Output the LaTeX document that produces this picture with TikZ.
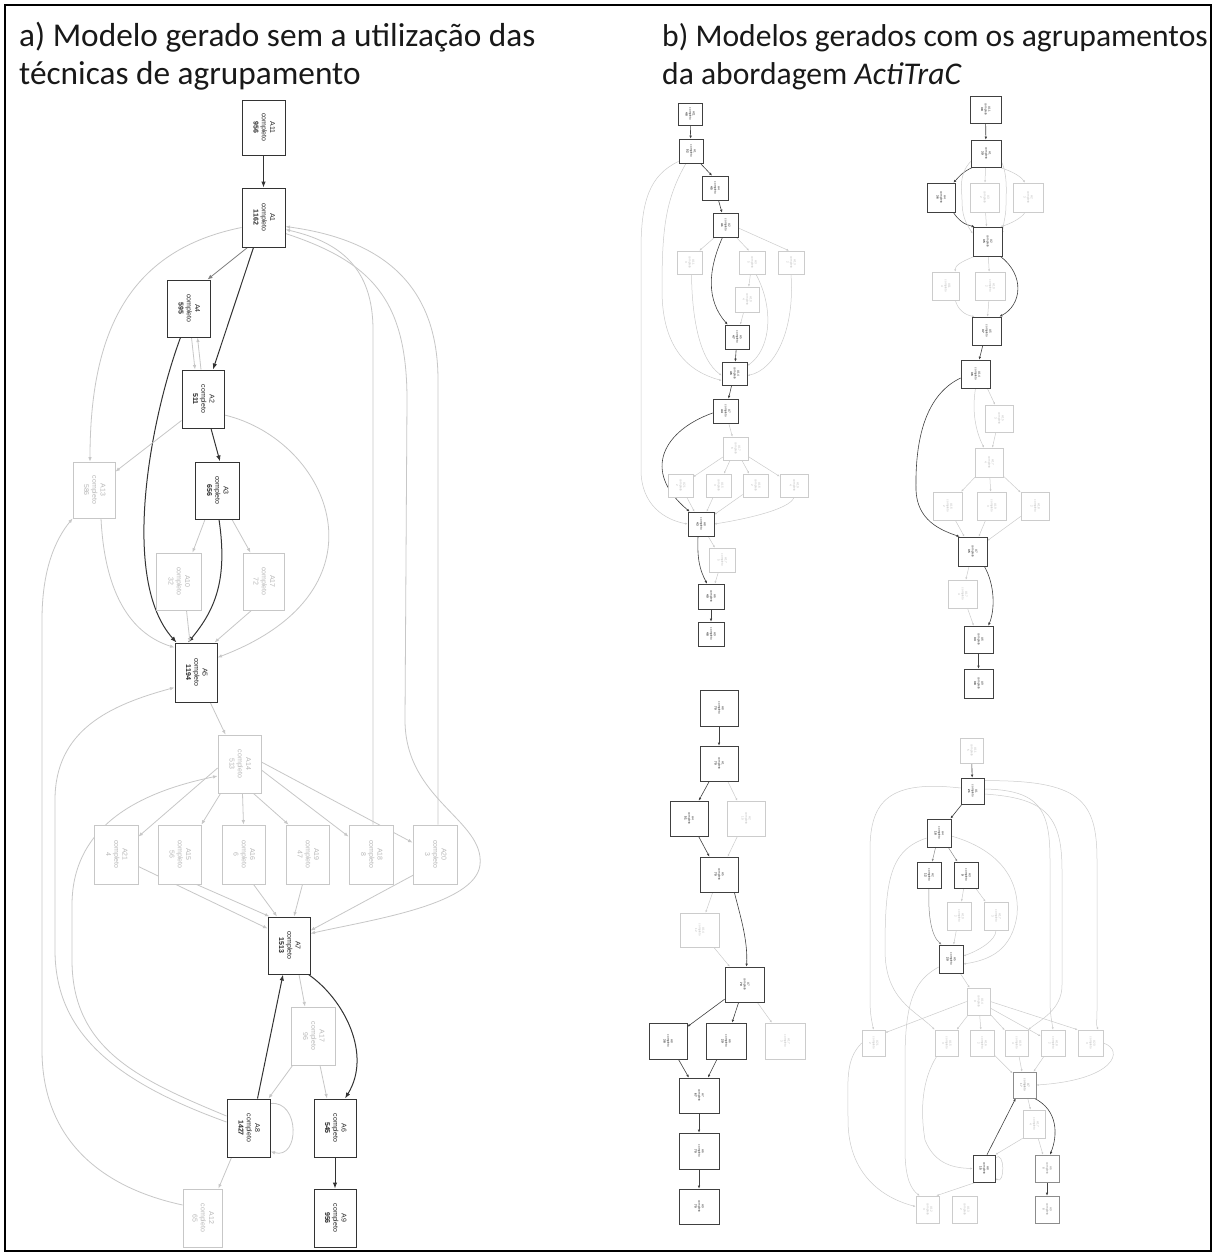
\documentclass[tikz,border=0pt]{standalone}
\usepackage{fontspec}
\setmainfont{Carlito}
\newfontfamily\nodefont{Liberation Sans}
\usepackage{graphicx}
\usetikzlibrary{arrows.meta,calc}
\pgfdeclarelayer{background}
\pgfdeclarelayer{paper}
\pgfsetlayers{paper,background,main}
\newcommand\myfa{\nodefont\fontsize{7}{8.2}\selectfont}
\newcommand\myfb{\nodefont\fontsize{3}{3.6}\selectfont}
\newcommand\bx[7]{\node[#6,minimum width={(#4)-(#2)},minimum height={(#5)-(#3)}] (#1) at ({((#2)+(#4))/2},{((#3)+(#5))/2}) {\rotatebox{-90}{\begin{tabular}{@{}c@{}}#7\end{tabular}}};}
\tikzset{
 dn/.style={draw=black!80,line width=1pt,fill=white,inner sep=0pt,text=black!85,font=\myfa},
 ln/.style={draw=black!22,line width=0.8pt,fill=white,inner sep=0pt,text=black!28,font=\myfa},
 sdn/.style={draw=black!75,line width=0.7pt,fill=white,inner sep=0pt,text=black!85,font=\myfb},
 smn/.style={draw=black!45,line width=0.6pt,fill=white,inner sep=0pt,text=black!50,font=\myfb},
 sln/.style={draw=black!20,line width=0.6pt,fill=white,inner sep=0pt,text=black!28,font=\myfb},
 de/.style={draw=black!80,line width=1pt,-{Latex[length=6pt,width=4.5pt]}},
 me/.style={draw=black!50,line width=0.8pt,-{Latex[length=5pt,width=4pt]}},
 le/.style={draw=black!22,line width=0.8pt,-{Latex[length=4.5pt,width=3.5pt]}},
 sde/.style={draw=black!75,line width=0.6pt,-{Latex[length=3pt,width=2.6pt]}},
 sme/.style={draw=black!45,line width=0.5pt,-{Latex[length=2.6pt,width=2.2pt]}},
 sle/.style={draw=black!20,line width=0.5pt,-{Latex[length=2.4pt,width=2pt]}},
 ttla/.style={anchor=base west,inner sep=0pt,text=black!90,font=\fontsize{33.3}{38}\selectfont},
 ttlb/.style={anchor=base west,inner sep=0pt,text=black!90,font=\fontsize{31.6}{37}\selectfont}
}
\begin{document}
\begin{tikzpicture}[x=1pt,y=-1pt]
\useasboundingbox (0,0) rectangle (1217,1256);
\begin{pgfonlayer}{paper}
\fill[white] (0,0) rectangle (1217,1256);
\end{pgfonlayer}
\draw[line width=2pt] (5,5) rectangle (1211,1251);
\node[ttla] (ta1) at (19,46) {a) Modelo gerado sem a utilização das};
\node[ttla] (ta2) at (19,84) {técnicas de agrupamento};
\node[ttlb] (tb1) at (662,46) {b) Modelos gerados com os agrupamentos};
\node[ttlb] (tb2) at (662,84) {da abordagem \textit{ActiTraC}};

% ---------- part a ----------
\bx{A11}{242}{100}{285}{155}{dn}{A11\\completo\\\textbf{956}}
\bx{A1}{242}{188}{285}{247}{dn}{A1\\completo\\\textbf{1162}}
\bx{A4}{167}{280}{210}{337}{dn}{A4\\completo\\\textbf{595}}
\bx{A2}{182}{370}{224}{428}{dn}{A2\\completo\\\textbf{511}}
\bx{A3}{195}{462}{239}{519}{dn}{A3\\completo\\\textbf{656}}
\bx{A13}{73}{462}{115}{518}{ln}{A13\\completo\\586}
\bx{A10}{156}{553}{201}{610}{ln}{A10\\completo\\32}
\bx{A17}{243}{553}{284}{610}{ln}{A17\\completo\\72}
\bx{A5}{175}{643}{217}{702}{dn}{A5\\completo\\\textbf{1194}}
\bx{A14}{218}{735}{261}{793}{ln}{A14\\completo\\513}
\bx{r1}{94}{825}{138}{884}{ln}{A21\\completo\\4}
\bx{r2}{158}{825}{201}{884}{ln}{A15\\completo\\56}
\bx{r3}{222}{825}{265}{884}{ln}{A16\\completo\\6}
\bx{r4}{286}{825}{329}{884}{ln}{A19\\completo\\47}
\bx{r5}{349}{825}{393}{884}{ln}{A18\\completo\\8}
\bx{r6}{413}{825}{457}{884}{ln}{A20\\completo\\3}
\bx{A7}{268}{917}{310}{974}{dn}{A7\\completo\\\textbf{1513}}
\bx{A17b}{291}{1007}{335}{1065}{ln}{A17\\completo\\96}
\bx{A8}{227}{1099}{270}{1157}{dn}{A8\\completo\\\textbf{1427}}
\bx{A6}{314}{1099}{356}{1157}{dn}{A6\\completo\\\textbf{545}}
\bx{A9}{314}{1189}{356}{1247}{dn}{A9\\completo\\\textbf{956}}
\bx{A12}{183}{1189}{222}{1247}{ln}{A12\\completo\\65}

% ---------- part b1 ----------
\bx{n1}{678}{103}{702}{125}{sdn}{A11\\completo\\\textbf{48}}
\bx{n2}{679}{139}{703}{163}{sdn}{A1\\completo\\\textbf{52}}
\bx{n3}{702}{176}{728}{200}{sdn}{A4\\completo\\\textbf{45}}
\bx{n4}{713}{213}{738}{237}{sdn}{A2\\completo\\\textbf{41}}
\bx{l1}{677}{251}{702}{274}{sln}{A11\\completo\\3}
\bx{l2}{739}{251}{765}{274}{sln}{A3\\completo\\5}
\bx{l3}{778}{251}{804}{274}{sln}{A13\\completo\\2}
\bx{l4}{735}{287}{759}{312}{sln}{A10\\completo\\4}
\bx{n5}{725}{325}{749}{349}{sdn}{A5\\completo\\\textbf{47}}
\bx{n6}{722}{362}{747}{385}{sdn}{A14\\completo\\\textbf{46}}
\bx{n7}{713}{399}{738}{423}{sdn}{A7\\completo\\\textbf{44}}
\bx{l5}{723}{437}{748}{460}{sln}{A17\\completo\\6}
\bx{q1}{668}{474}{693}{497}{sln}{A21\\completo\\2}
\bx{q2}{706}{474}{731}{497}{sln}{A15\\completo\\3}
\bx{q3}{743}{474}{768}{497}{sln}{A16\\completo\\2}
\bx{q4}{780}{474}{808}{497}{sln}{A19\\completo\\4}
\bx{n8}{688}{512}{714}{536}{sdn}{A8\\completo\\\textbf{43}}
\bx{l6}{709}{548}{735}{572}{sln}{A17\\completo\\5}
\bx{n9}{698}{584}{724}{609}{sdn}{A6\\completo\\\textbf{40}}
\bx{n10}{698}{622}{724}{646}{sdn}{A9\\completo\\\textbf{48}}

% ---------- part b2 ----------
\bx{m1}{970}{96}{1001}{123}{sdn}{A11\\completo\\\textbf{38}}
\bx{m2}{971}{140}{1001}{167}{sdn}{A1\\completo\\\textbf{39}}
\bx{m3}{927}{183}{955}{212}{sdn}{A4\\completo\\\textbf{36}}
\bx{c1}{970}{183}{999}{212}{sln}{A3\\completo\\2}
\bx{c2}{1013}{183}{1043}{212}{sln}{A2\\completo\\3}
\bx{m4}{973}{227}{1002}{256}{sdn}{A2\\completo\\\textbf{35}}
\bx{c3}{932}{272}{959}{300}{sln}{A11\\completo\\4}
\bx{c4}{975}{272}{1005}{300}{sln}{A10\\completo\\2}
\bx{m5}{972}{317}{1001}{345}{sdn}{A5\\completo\\\textbf{37}}
\bx{m6}{961}{360}{990}{388}{sdn}{A14\\completo\\\textbf{36}}
\bx{c5}{985}{405}{1013}{432}{sln}{A15\\completo\\3}
\bx{c6}{975}{448}{1003}{477}{sln}{A17\\completo\\4}
\bx{c7}{933}{492}{962}{520}{sln}{A16\\completo\\2}
\bx{c8}{977}{492}{1006}{520}{sln}{A19\\completo\\3}
\bx{c9}{1021}{492}{1049}{520}{sln}{A18\\completo\\2}
\bx{m7}{958}{537}{987}{566}{sdn}{A7\\completo\\\textbf{35}}
\bx{c10}{948}{580}{977}{608}{sln}{A17\\completo\\4}
\bx{m8}{964}{626}{993}{653}{sdn}{A6\\completo\\\textbf{33}}
\bx{m9}{964}{669}{993}{698}{sdn}{A9\\completo\\\textbf{38}}

% ---------- part b3 ----------
\bx{k1}{700}{690}{738}{726}{sdn}{A8\\completo\\\textbf{70}}
\bx{k2}{700}{746}{738}{781}{sdn}{A1\\completo\\\textbf{70}}
\bx{k3}{670}{801}{708}{836}{sdn}{A4\\completo\\\textbf{51}}
\bx{k3l}{727}{801}{765}{836}{sln}{A2\\completo\\19}
\bx{k4}{700}{857}{738}{892}{sdn}{A5\\completo\\\textbf{70}}
\bx{kl}{680}{913}{719}{947}{sln}{A14\\completo\\12}
\bx{k5}{725}{967}{764}{1002}{sdn}{A7\\completo\\\textbf{70}}
\bx{k6}{649}{1023}{687}{1059}{sdn}{A8\\completo\\\textbf{38}}
\bx{k7}{706}{1023}{746}{1059}{sdn}{A6\\completo\\\textbf{29}}
\bx{k7l}{765}{1023}{805}{1059}{sln}{A17\\completo\\3}
\bx{k8}{679}{1078}{719}{1113}{sdn}{A7\\completo\\\textbf{67}}
\bx{k9}{679}{1133}{719}{1169}{sdn}{A6\\completo\\\textbf{70}}
\bx{k10}{679}{1189}{719}{1224}{sdn}{A9\\completo\\\textbf{70}}

% ---------- part b4 ----------
\bx{p1}{960}{738}{983}{763}{sln}{A11\\completo\\5}
\bx{p2}{961}{778}{984}{804}{sdn}{A1\\completo\\\textbf{21}}
\bx{p3}{927}{819}{951}{847}{sdn}{A4\\completo\\\textbf{18}}
\bx{p4}{917}{862}{941}{888}{sdn}{A2\\completo\\\textbf{12}}
\bx{p5}{954}{862}{978}{888}{sdn}{A3\\completo\\\textbf{9}}
\bx{s1}{947}{902}{971}{930}{sln}{A10\\completo\\2}
\bx{s2}{984}{902}{1008}{930}{sln}{A17\\completo\\3}
\bx{p6}{939}{945}{963}{973}{sdn}{A5\\completo\\\textbf{20}}
\bx{s3}{967}{988}{990}{1015}{sln}{A14\\completo\\9}
\bx{t1}{862}{1030}{885}{1056}{sln}{A21\\completo\\2}
\bx{t2}{935}{1030}{958}{1056}{sln}{A15\\completo\\3}
\bx{t3}{970}{1030}{994}{1056}{sln}{A16\\completo\\2}
\bx{t4}{1005}{1030}{1028}{1056}{sln}{A19\\completo\\4}
\bx{t5}{1041}{1030}{1065}{1056}{sln}{A18\\completo\\2}
\bx{t6}{1078}{1030}{1103}{1056}{sln}{A20\\completo\\3}
\bx{p7}{1013}{1072}{1036}{1098}{smn}{A7\\completo\\17}
\bx{s4}{1023}{1110}{1045}{1138}{sln}{A17\\completo\\4}
\bx{p8}{973}{1155}{995}{1182}{sdn}{A8\\completo\\\textbf{15}}
\bx{p9}{1035}{1155}{1059}{1182}{smn}{A6\\completo\\8}
\bx{u1}{916}{1196}{939}{1223}{sln}{A12\\completo\\3}
\bx{u2}{952}{1196}{977}{1223}{sln}{A13\\completo\\2}
\bx{p10}{1035}{1196}{1059}{1223}{smn}{A9\\completo\\8}

\begin{pgfonlayer}{background}
% ===== part a edges =====
\draw[de] (A11) -- (A1);
\draw[me] ($(A1.south west)+(6,0)$) -- ($(A4.north east)+(-3,0)$);
\draw[de] ($(A1.south)+(-10,0)$) -- ($(A2.north)+(10,0)$);
\draw[le] ($(A4.south)+(3,0)$) -- ($(A2.north)+(-8,0)$);
\draw[le] ($(A2.north)+(-2,0)$) -- ($(A4.south)+(9,0)$);
\draw[de] ($(A2.south)+(8,0)$) -- ($(A3.north)+(3,0)$);
\draw[de] ($(A4.south)+(-8,0)$) .. controls (150,420) and (120,580) .. ($(A5.north west)+(2,0)$);
\draw[de] ($(A3.south)+(2,0)$) .. controls (228,580) and (215,610) .. ($(A5.north)+(-8,0)$);
\draw[le] ($(A1.west)+(0,10)$) .. controls (130,250) and (90,330) .. ($(A13.north)+(-4,0)$);
\draw[le] ($(A2.south west)+(0,-8)$) -- ($(A13.north east)+(0,10)$);
\draw[le] ($(A13.south)+(7,0)$) .. controls (105,600) and (135,635) .. ($(A5.north west)+(0,5)$);
\draw[le] ($(A3.south)+(-12,0)$) -- ($(A10.north)+(14,0)$);
\draw[le] ($(A3.south)+(15,0)$) -- ($(A17.north)+(-13,0)$);
\draw[le] ($(A10.south)+(8,0)$) -- ($(A5.north)+(-6,0)$);
\draw[le] ($(A17.south)+(-12,0)$) -- ($(A5.north east)+(-3,0)$);
\draw[le] ($(A2.east)+(0,16)$) .. controls (330,440) and (395,590) .. ($(A5.east)+(0,-15)$);
\draw[le] (A5) -- (A14);
\draw[le] ($(A14.west)+(0,4)$) -- ($(r1.north east)+(0,12)$);
\draw[le] ($(A14.south west)+(3,0)$) -- (r2.north east);
\draw[le] ($(A14.south)+(3,0)$) -- (r3.north);
\draw[le] ($(A14.south east)+(-8,0)$) -- ($(r4.north west)+(3,0)$);
\draw[le] ($(A14.east)+(0,6)$) -- ($(r5.north west)+(0,12)$);
\draw[le] ($(A14.east)+(0,-2)$) -- ($(r6.north west)+(0,18)$);
\draw[le] ($(r1.east)+(0,12)$) -- ($(A7.north west)+(0,12)$);
\draw[le] ($(r2.south east)+(-5,0)$) -- ($(A7.north west)+(2,0)$);
\draw[le] ($(r3.south)+(10,0)$) -- ($(A7.north)+(-12,0)$);
\draw[le] ($(r4.south)+(-5,0)$) -- ($(A7.north)+(5,0)$);
\draw[le] ($(r6.south west)+(2,-10)$) -- ($(A7.north east)+(0,14)$);
\draw[le] ($(r5.north)+(2,0)$) -- (373,330) .. controls (373,268) and (340,242) .. ($(A1.east)+(0,12)$);
\draw[le] ($(r6.north)+(3,0)$) -- (438,380) .. controls (438,275) and (370,238) .. ($(A1.east)+(0,9)$);
\draw[le] ($(A1.east)+(0,16)$) .. controls (372,262) and (407,300) .. (407,400) -- (405,720) .. controls (405,800) and (485,820) .. (480,865) .. controls (475,905) and (370,920) .. ($(A7.east)+(0,-12)$);
\draw[le] ($(A8.west)+(0,-12)$) .. controls (140,1080) and (72,1050) .. (72,960) -- (72,905) .. controls (72,820) and (150,790) .. ($(A14.west)+(0,12)$);
\draw[le] ($(A8.west)+(0,-6)$) .. controls (110,1080) and (55,1030) .. (55,950) -- (55,800) .. controls (55,730) and (110,705) .. ($(A5.west)+(0,15)$);
\draw[le] ($(A12.west)+(0,-13)$) .. controls (90,1185) and (42,1130) .. (42,1050) -- (42,620) .. controls (42,570) and (55,540) .. (A13.south west);
\draw[le] ($(A7.south)+(10,0)$) -- ($(A17b.north)+(-8,0)$);
\draw[de] ($(A7.south east)+(-2,0)$) .. controls (345,1000) and (372,1055) .. ($(A6.north)+(10,0)$);
\draw[le] ($(A17b.south west)+(2,0)$) -- ($(A8.north east)+(-2,0)$);
\draw[le] ($(A17b.south)+(7,0)$) -- ($(A6.north)+(-8,0)$);
\draw[de] ($(A8.north)+(9,0)$) -- ($(A7.south)+(-6,0)$);
\draw[le] ($(A8.north east)+(0,5)$) .. controls (300,1100) and (300,1160) .. ($(A8.south east)+(0,-6)$);
\draw[le] ($(A8.south west)+(5,0)$) -- ($(A12.north east)+(-4,0)$);
\draw[de] (A6) -- (A9);

% ===== b1 edges =====
\draw[sde] (n1) -- (n2);
\draw[sde] ($(n2.south east)+(-3,0)$) -- ($(n3.north)+(-3,0)$);
\draw[sde] (n3) -- (n4);
\draw[sde] ($(n4.south)+(-3,0)$) .. controls (708,270) and (706,300) .. ($(n5.north west)+(3,0)$);
\draw[sde] (n5) -- (n6);
\draw[sde] (n6) -- (n7);
\draw[sde] ($(n7.west)+(0,2)$) .. controls (665,430) and (640,470) .. ($(n8.north west)+(2,0)$);
\draw[sde] ($(n8.south)+(-3,0)$) .. controls (697,560) and (700,570) .. ($(n9.north)+(-4,0)$);
\draw[sde] (n9) -- (n10);
\draw[sle] ($(n4.south west)+(2,0)$) -- ($(l1.north east)+(-3,0)$);
\draw[sle] ($(n4.south east)+(-2,0)$) -- ($(l2.north)+(-3,0)$);
\draw[sle] ($(n4.east)+(0,3)$) -- ($(l3.north)+(-2,0)$);
\draw[sle] (l2) -- (l4);
\draw[sle] (l4) -- (n5);
\draw[sle] ($(l1.south)+(2,0)$) .. controls (692,320) and (700,360) .. ($(n6.west)+(0,2)$);
\draw[sle] (l3.south) .. controls (795,330) and (775,370) .. ($(n6.east)+(0,2)$);
\draw[sle] ($(l2.south)+(4,0)$) .. controls (775,310) and (770,350) .. ($(n6.north east)+(0,4)$);
\draw[sle] ($(n2.south west)+(0,-2)$) .. controls (650,175) and (641,200) .. (641,250) -- (641,470) .. controls (641,505) and (665,520) .. (n8.west);
\draw[sle] ($(n2.south)+(-5,0)$) .. controls (665,200) and (662,230) .. (662,290) .. controls (662,350) and (690,372) .. ($(n6.west)+(0,7)$);
\draw[sle] (n7) -- (l5);
\draw[sle] (l5) -- (q1);
\draw[sle] (l5) -- (q2);
\draw[sle] (l5) -- (q3);
\draw[sle] (l5) -- (q4);
\draw[sle] (q1) -- (n8);
\draw[sle] (q2) -- (n8);
\draw[sle] (q3) -- (n8);
\draw[sle] (q4.south) .. controls (790,510) and (740,520) .. (n8.east);
\draw[sle] (n8) -- (l6);
\draw[sle] (l6) -- (n9);

% ===== b2 edges =====
\draw[sde] (m1) -- (m2);
\draw[sde] ($(m2.south west)+(2,0)$) .. controls (962,172) and (958,178) .. ($(m3.north east)+(-2,0)$);
\draw[sle] (m2) -- (c1);
\draw[sle] ($(m2.south east)+(-2,0)$) .. controls (1015,172) and (1022,178) .. ($(c2.north)+(-3,0)$);
\draw[sde] ($(m3.south east)+(-2,0)$) .. controls (958,220) and (965,225) .. ($(m4.north west)+(2,0)$);
\draw[sle] (c1) -- (m4);
\draw[sle] ($(c2.south)+(-3,0)$) .. controls (1022,218) and (1010,224) .. ($(m4.north east)+(-2,0)$);
\draw[sle] ($(m2.west)+(0,8)$) .. controls (958,175) and (962,190) .. (962,200) .. controls (962,215) and (965,222) .. ($(m4.west)+(0,-8)$);
\draw[sle] ($(m2.east)+(0,8)$) .. controls (1008,175) and (1006,195) .. (1006,205) .. controls (1006,215) and (1004,220) .. ($(m4.east)+(0,-8)$);
\draw[sle] ($(m4.south west)+(2,0)$) .. controls (960,262) and (955,266) .. ($(c3.north east)+(-4,0)$);
\draw[sle] (m4) -- (c4);
\draw[sde] ($(m4.south east)+(-2,0)$) .. controls (1025,275) and (1022,305) .. ($(m5.north east)+(-2,0)$);
\draw[sle] ($(c3.south east)+(-4,0)$) .. controls (958,310) and (965,315) .. ($(m5.north west)+(3,0)$);
\draw[sle] (c4) -- (m5);
\draw[sde] (m5) -- (m6);
\draw[sle] ($(m6.south east)+(-3,0)$) -- ($(c5.north)+(-4,0)$);
\draw[sle] (m6.south) .. controls (972,410) and (975,430) .. ($(c6.north)+(-5,0)$);
\draw[sde] ($(m6.west)+(0,4)$) .. controls (925,395) and (915,440) .. (916,490) .. controls (917,520) and (940,530) .. ($(m7.north west)+(2,0)$);
\draw[sle] (c5) -- (c6);
\draw[sle] (c6) -- (c7);
\draw[sle] (c6) -- (c8);
\draw[sle] (c6) -- (c9);
\draw[sle] (c7) -- (m7);
\draw[sle] (c8) -- (m7);
\draw[sle] (c9) -- (m7);
\draw[sle] (m7) -- (c10);
\draw[sde] ($(m7.south east)+(-3,0)$) .. controls (995,585) and (995,610) .. ($(m8.north east)+(-5,0)$);
\draw[sle] (c10) -- (m8);
\draw[sde] (m8) -- (m9);

% ===== b3 edges =====
\draw[sde] (k1) -- (k2);
\draw[sde] (k2) -- (k3);
\draw[sle] (k2) -- (k3l);
\draw[sde] (k3) -- (k4);
\draw[sle] (k3l) -- (k4);
\draw[sle] (k4) -- (kl);
\draw[sde] ($(k4.south east)+(-4,0)$) .. controls (740,915) and (748,940) .. ($(k5.north)+(2,0)$);
\draw[sle] (kl) -- (k5);
\draw[sde] (k5) -- (k6);
\draw[sde] (k5) -- (k7);
\draw[sle] (k5) -- (k7l);
\draw[sde] (k6) -- (k8);
\draw[sde] (k7) -- (k8);
\draw[sde] (k8) -- (k9);
\draw[sde] (k9) -- (k10);

% ===== b4 edges =====
\draw[sde] (p1) -- (p2);
\draw[sde] (p2) -- (p3);
\draw[sme] (p3) -- (p4);
\draw[sme] (p3) -- (p5);
\draw[sle] ($(p2.west)+(0,-3)$) .. controls (890,780) and (870,800) .. (870,850) -- (870,1000) .. controls (870,1015) and (872,1022) .. (t1.north);
\draw[sle] ($(p2.east)+(0,-2)$) .. controls (1040,790) and (1050,810) .. (1050,860) -- (1050,1000) .. controls (1050,1015) and (1052,1022) .. (t5.north);
\draw[sle] ($(p2.east)+(0,3)$) .. controls (1045,798) and (1062,815) .. (1062,870) -- (1062,985) .. controls (1062,1010) and (1040,1020) .. (t4.north east);
\draw[sle] ($(p2.north east)+(0,3)$) .. controls (1080,780) and (1097,800) .. (1097,860) -- (1097,1010) .. controls (1097,1020) and (1096,1025) .. ($(t6.north east)+(-5,0)$);
\draw[sme] (p4.south) .. controls (928,910) and (930,935) .. ($(p6.north west)+(3,0)$);
\draw[sle] (p5) -- (s1);
\draw[sle] (p5) -- (s2);
\draw[sle] (s1) -- (p6);
\draw[sle] (s2.south) .. controls (996,940) and (980,950) .. ($(p6.east)+(0,-3)$);
\draw[sle] ($(p3.east)+(0,3)$) .. controls (1000,850) and (1020,880) .. (1017,915) .. controls (1012,950) and (990,960) .. ($(p6.east)+(0,5)$);
\draw[sle] (p6) -- (s3);
\draw[sle] (s3.west) -- ($(t1.north east)+(0,3)$);
\draw[sle] (s3) -- (t2);
\draw[sle] (s3) -- (t3);
\draw[sle] (s3) -- (t4);
\draw[sle] (s3) -- (t5);
\draw[sle] (s3.east) -- (t6.north west);
\draw[sle] (t3) -- (p7);
\draw[sle] (t4) -- (p7);
\draw[sle] (t5) -- (p7);
\draw[sle] (t6.east) .. controls (1125,1050) and (1115,1080) .. (p7.east);
\draw[sle] (t1.west) .. controls (845,1060) and (848,1080) .. (848,1120) .. controls (848,1180) and (890,1200) .. ($(u1.west)+(0,-3)$);
\draw[sle] ($(p6.west)+(0,8)$) .. controls (915,980) and (905,1000) .. (905,1060) -- (905,1150) .. controls (905,1180) and (912,1190) .. ($(u1.north west)+(4,0)$);
\draw[sle] ($(p3.west)+(0,5)$) .. controls (890,850) and (885,880) .. (885,950) .. controls (885,1000) and (915,1010) .. (t2.north west);
\draw[sle] ($(t2.south west)+(2,0)$) .. controls (922,1080) and (920,1110) .. (925,1140) .. controls (935,1165) and (955,1168) .. (p8.west);
\draw[sde] ($(p8.north)+(3,0)$) -- ($(p7.south west)+(3,0)$);
\draw[sle] (p7) -- (s4);
\draw[sde] ($(p7.south east)+(-2,0)$) .. controls (1058,1110) and (1058,1135) .. ($(p9.north)+(3,0)$);
\draw[sle] (s4) -- (p9);
\draw[sle] (s4.south west) -- (p8.north east);
\draw[sde] (p9) -- (p10);
\draw[sle] ($(p8.north east)+(0,3)$) .. controls (1005,1150) and (1005,1185) .. ($(p8.south east)+(0,-4)$);
\draw[sle] ($(p8.south west)+(3,0)$) -- ($(u1.north east)+(-3,0)$);
\end{pgfonlayer}
\end{tikzpicture}
\end{document}
